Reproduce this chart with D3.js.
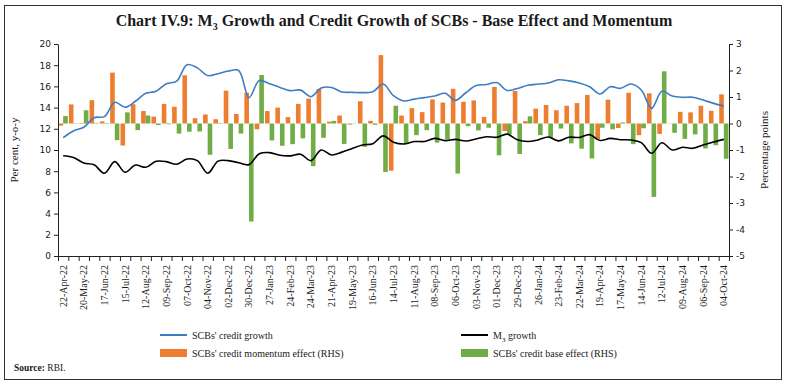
<!DOCTYPE html>
<html>
<head>
<meta charset="utf-8">
<script src="https://cdn.jsdelivr.net/npm/d3@7"></script>
<style>
  body { margin: 0; background: #fff; }
  text { font-family: "Liberation Serif", serif; fill: #1a1a1a; }
  .num text { font-family: "DejaVu Sans", sans-serif; font-size: 9px; }
</style>
</head>
<body>
<figure id="chart" style="margin:0"></figure>
<script>
// fortnights, 22-Apr-22 .. 04-Oct-24
const dates = [
  "22-Apr-22","06-May-22","20-May-22","03-Jun-22","17-Jun-22","01-Jul-22","15-Jul-22","29-Jul-22",
  "12-Aug-22","26-Aug-22","09-Sep-22","23-Sep-22","07-Oct-22","21-Oct-22","04-Nov-22","18-Nov-22",
  "02-Dec-22","16-Dec-22","30-Dec-22","13-Jan-23","27-Jan-23","10-Feb-23","24-Feb-23","10-Mar-23",
  "24-Mar-23","07-Apr-23","21-Apr-23","05-May-23","19-May-23","02-Jun-23","16-Jun-23","30-Jun-23",
  "14-Jul-23","28-Jul-23","11-Aug-23","25-Aug-23","08-Sep-23","22-Sep-23","06-Oct-23","20-Oct-23",
  "03-Nov-23","17-Nov-23","01-Dec-23","15-Dec-23","29-Dec-23","12-Jan-24","26-Jan-24","09-Feb-24",
  "23-Feb-24","08-Mar-24","22-Mar-24","05-Apr-24","19-Apr-24","03-May-24","17-May-24","31-May-24",
  "14-Jun-24","28-Jun-24","12-Jul-24","26-Jul-24","09-Aug-24","23-Aug-24","06-Sep-24","20-Sep-24",
  "04-Oct-24"
];

// per cent, y-o-y (LHS)
const creditGrowth = [
  11.16, 11.8, 12.15, 13.05, 13.15, 14.5, 14.03, 14.6, 15.35, 15.55, 16.25, 16.5, 18.05, 17.75, 17.02, 17.2,
  17.45, 17.5, 14.94, 16.55, 16.25, 15.9, 15.6, 15.65, 15.03, 15.85, 15.9, 15.48, 15.44, 15.41, 15.5, 16.22,
  15.12, 14.63, 14.8, 14.94, 15.1, 15.35, 14.68, 15.4, 16.08, 16.18, 16.36, 15.62, 15.8, 16.1, 16.22, 16.32,
  16.62, 16.52, 16.33, 15.97, 15.28, 15.97, 15.82, 16.22, 15.66, 13.93, 15.55, 15.09, 14.97, 14.98, 14.72, 14.4,
  14.15
];
const m3Growth = [
  9.46, 9.3, 8.77, 8.6, 7.8, 8.9, 7.9, 8.58, 8.37, 8.93, 8.9, 8.66, 9.15, 9.0, 7.8, 8.95,
  9.0, 8.8, 8.62, 9.65, 9.75, 9.5, 9.45, 9.6, 9.0, 10.0, 9.53, 9.8, 10.15, 10.47, 10.6, 11.33,
  10.74, 10.57, 10.8, 10.8, 11.1, 10.88, 11.0, 10.85, 11.04, 11.25, 11.2, 11.5, 10.97, 10.8, 10.95, 11.22,
  10.86, 11.2, 11.18, 11.45, 10.9, 11.1, 10.97, 10.94, 10.7, 9.69, 10.69, 10.0, 10.26, 10.16, 10.47, 10.75,
  11.0
];

// percentage points (RHS)
const momentumEffect = [
  -0.08, 0.72, 0.02, 0.88, 0.08, 1.92, -0.83, 0.73, 0.47, 0.26, 0.74, 0.63, 1.82, 0.2, 0.34, 0.16,
  1.24, 0.36, 1.16, -0.22, 0.47, 0.6, 0.24, 0.74, 0.94, 1.3, 0.07, 0.3, -0.04, 0.84, 0.1, 2.58,
  -1.78, 0.3, 0.58, 0.43, 0.91, 0.79, 1.31, 0.82, 0.87, 0.25, 1.38, -0.28, 1.23, 0.09, 0.56, 0.7,
  0.5, 0.67, 0.77, 1.08, -0.6, 0.9, -0.17, 1.16, -0.44, 1.14, -0.39, 0.01, 0.44, 0.42, 0.67, 0.48,
  1.1
];
const baseEffect = [
  0.28, 0.01, 0.5, 0.02, 0.02, -0.63, 0.42, -0.25, 0.3, -0.06, -0.03, -0.38, -0.31, -0.3, -1.18, 0.02,
  -0.96, -0.38, -3.7, 1.83, -0.64, -0.84, -0.78, -0.56, -1.61, -0.54, 0.1, -0.77, 0.01, -0.88, -0.05, -1.83,
  0.67, -0.77, -0.44, -0.25, -0.72, -0.61, -1.89, -0.1, -0.26, -0.16, -1.2, -0.42, -1.15, 0.27, -0.44, -0.55,
  -0.19, -0.75, -0.95, -1.32, -0.16, -0.22, 0.04, -0.78, -0.18, -2.77, 1.97, -0.35, -0.58, -0.41, -0.94, -0.82,
  -1.33
];

const leftTicks = [0, 2, 4, 6, 8, 10, 12, 14, 16, 18, 20];
const rightTicks = [-5, -4, -3, -2, -1, 0, 1, 2, 3];

const W = 786, H = 386;
const plot = { left: 58, right: 729, top: 44, bottom: 256 };

const svg = d3.select("figure#chart")
  .append("svg")
  .attr("width", W)
  .attr("height", H);

// frame
svg.append("rect")
  .attr("x", 4.5).attr("y", 5.5)
  .attr("width", 777).attr("height", 374)
  .attr("fill", "none")
  .attr("stroke", "#333")
  .attr("stroke-width", 1);

// title
const title = svg.append("text")
  .attr("x", 394).attr("y", 26)
  .attr("text-anchor", "middle")
  .style("font-size", "16px")
  .style("font-weight", "bold");
title.append("tspan").text("Chart IV.9: M");
title.append("tspan").attr("dy", 4).style("font-size", "10px").text("3");
title.append("tspan").attr("dy", -4).text(" Growth and Credit Growth of SCBs - Base Effect and Momentum");

// scales
const x = d3.scaleBand()
  .domain(dates)
  .range([plot.left, plot.right])
  .padding(0);

const xIdx = d3.scaleLinear()
  .domain([0, dates.length])
  .range([plot.left, plot.right]);

const xInner = d3.scaleBand()
  .domain(["momentum", "base"])
  .range([0, x.bandwidth()])
  .paddingInner(0)
  .paddingOuter(0.12);

const yL = d3.scaleLinear().domain([0, 20]).range([plot.bottom, plot.top]);
const yR = d3.scaleLinear().domain([-5, 3]).range([plot.bottom, plot.top]);

// bars (RHS)
const barData = dates.map((d, i) => ({ date: d, momentum: momentumEffect[i], base: baseEffect[i] }));
const barColors = { momentum: "#ED7D31", base: "#70AD47" };

svg.append("g")
  .selectAll("g")
  .data(barData)
  .enter()
  .append("g")
  .attr("transform", d => "translate(" + x(d.date) + ",0)")
  .selectAll("rect")
  .data(d => ["momentum", "base"].map(k => ({ key: k, value: d[k] })))
  .enter()
  .append("rect")
  .attr("x", d => xInner(d.key))
  .attr("width", xInner.bandwidth())
  .attr("y", d => yR(Math.max(0, d.value)))
  .attr("height", d => Math.abs(yR(d.value) - yR(0)))
  .attr("fill", d => barColors[d.key]);

// lines (LHS)
const line = d3.line()
  .x((d, i) => x(dates[i]) + x.bandwidth() / 2)
  .y(d => yL(d))
  .curve(d3.curveCatmullRom.alpha(0.5));

svg.append("path")
  .datum(creditGrowth)
  .attr("fill", "none")
  .attr("stroke", "#3C7DC4")
  .attr("stroke-width", 1.6)
  .attr("d", line);

svg.append("path")
  .datum(m3Growth)
  .attr("fill", "none")
  .attr("stroke", "#000")
  .attr("stroke-width", 1.6)
  .attr("d", line);

// left axis
svg.append("g")
  .attr("class", "num")
  .attr("transform", "translate(" + plot.left + ",0)")
  .call(d3.axisLeft(yL).tickValues(leftTicks).tickSize(4).tickSizeOuter(0).tickFormat(d => String(d)))
  .call(g => g.selectAll("line, path").attr("stroke", "#222"));

// right axis
svg.append("g")
  .attr("class", "num")
  .attr("transform", "translate(" + plot.right + ",0)")
  .call(d3.axisRight(yR).tickValues(rightTicks).tickSize(4).tickSizeOuter(0).tickFormat(d => String(d)))
  .call(g => g.selectAll("line, path").attr("stroke", "#222"));

// x axis: ticks between categories
svg.append("g")
  .attr("transform", "translate(0," + plot.bottom + ")")
  .call(d3.axisBottom(xIdx).tickValues(d3.range(dates.length + 1)).tickSize(5).tickSizeOuter(0).tickFormat(""))
  .call(g => g.selectAll("line, path").attr("stroke", "#222"));

// x labels, every other fortnight
svg.append("g")
  .attr("transform", "translate(0," + plot.bottom + ")")
  .call(d3.axisBottom(x).tickValues(dates.filter((d, i) => i % 2 === 0)).tickSize(0))
  .call(g => g.select(".domain").remove())
  .selectAll("text")
  .attr("transform", "rotate(-90)")
  .attr("x", -9)
  .attr("y", 0)
  .attr("dy", "0.35em")
  .style("text-anchor", "end")
  .style("font-family", "'Liberation Serif', serif")
  .style("font-size", "10px");

// axis titles
svg.append("text")
  .attr("transform", "translate(18,150) rotate(-90)")
  .attr("text-anchor", "middle")
  .style("font-size", "11px")
  .text("Per cent, y-o-y");

svg.append("text")
  .attr("transform", "translate(768,150) rotate(-90)")
  .attr("text-anchor", "middle")
  .style("font-size", "11px")
  .text("Percentage points");

// legend
const legend = svg.append("g").style("font-size", "10px");
const legendItems = [
  { label: "SCBs' credit growth", type: "line", color: "#3C7DC4", x: 160, y: 335 },
  { label: "M3 growth", type: "line", color: "#000", x: 461, y: 335 },
  { label: "SCBs' credit momentum effect (RHS)", type: "rect", color: "#ED7D31", x: 160, y: 353 },
  { label: "SCBs' credit base effect (RHS)", type: "rect", color: "#70AD47", x: 461, y: 353 }
];

legendItems.forEach(item => {
  if (item.type === "line") {
    legend.append("line")
      .attr("x1", item.x).attr("x2", item.x + 27)
      .attr("y1", item.y).attr("y2", item.y)
      .attr("stroke", item.color)
      .attr("stroke-width", 2);
  } else {
    legend.append("rect")
      .attr("x", item.x).attr("y", item.y - 4)
      .attr("width", 27).attr("height", 8)
      .attr("fill", item.color);
  }
  const t = legend.append("text")
    .attr("x", item.x + 32)
    .attr("y", item.y + 3.5);
  if (item.label === "M3 growth") {
    t.append("tspan").text("M");
    t.append("tspan").attr("dy", 3).style("font-size", "7px").text("3");
    t.append("tspan").attr("dy", -3).text(" growth");
  } else {
    t.text(item.label);
  }
});

// source
const src = svg.append("text")
  .attr("x", 14).attr("y", 371)
  .style("font-size", "9.5px");
src.append("tspan").style("font-weight", "bold").text("Source: ");
src.append("tspan").text("RBI.");
</script>
</body>
</html>
